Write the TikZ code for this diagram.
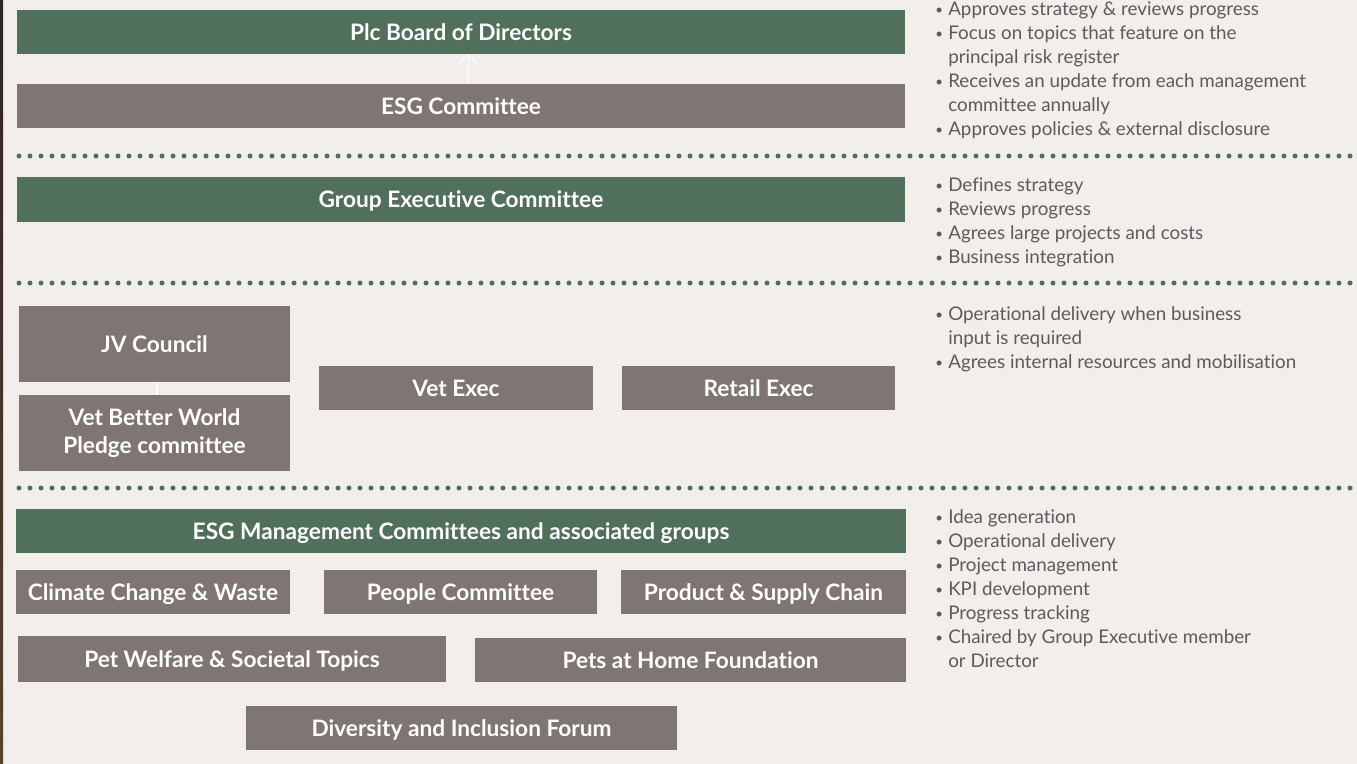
\documentclass[tikz,border=0pt]{standalone}
\usepackage{fontspec}
\usetikzlibrary{arrows.meta}
\setmainfont{Lato}[Ligatures=NoCommon]
\definecolor{bg}{HTML}{F2EEEC}
\definecolor{grn}{HTML}{50705C}
\definecolor{gry}{HTML}{7F7673}
\definecolor{txt}{HTML}{5E5A59}
\definecolor{edge}{HTML}{2E2426}
\begin{document}
\begin{tikzpicture}[x=0.75pt,y=-0.75pt,
  boxbase/.style={inner sep=0pt, text=white, font=\fontsize{17}{21.5}\selectfont\bfseries, align=center},
  one/.style={text height=12.5pt, text depth=0.3pt},
  gbox/.style={boxbase, fill=grn},
  ybox/.style={boxbase, fill=gry},
  dots/.style={grn, line width=3.75pt, line cap=round, dash pattern=on 0pt off 8.25pt},
  bl/.style={anchor=base west, inner sep=0pt, text=txt, font=\fontsize{14.1}{16}\selectfont},
  bu/.style={anchor=base west, inner sep=0pt, text=txt, font=\fontsize{10}{12}\selectfont}
]
\fill[bg] (0,0) rectangle (1357,764);
\useasboundingbox (0,0) rectangle (1357,764);
\shade[top color=edge, bottom color=edge!70!brown] (0,0) rectangle (3,764);

% boxes
\node[gbox, one, minimum width=888*0.75pt, minimum height=44*0.75pt] (plc) at (461,32) {Plc Board of Directors};
\node[ybox, one, minimum width=888*0.75pt, minimum height=44*0.75pt] (esg) at (461,106) {ESG Committee};
\node[gbox, one, minimum width=888*0.75pt, minimum height=45*0.75pt] (gec) at (461,199.5) {Group Executive Committee};
\node[ybox, one, minimum width=271*0.75pt, minimum height=76*0.75pt] (jv) at (154.5,344) {JV Council};
\node[ybox, minimum width=271*0.75pt, minimum height=76*0.75pt] (vbw) at (154.5,433) {Vet Better World\\Pledge committee};
\node[ybox, one, minimum width=274*0.75pt, minimum height=44*0.75pt] (vet) at (456,388) {Vet Exec};
\node[ybox, one, minimum width=273*0.75pt, minimum height=44*0.75pt] (ret) at (758.5,388) {Retail Exec};
\node[gbox, one, minimum width=890*0.75pt, minimum height=44*0.75pt] (mgmt) at (461,531) {ESG Management Committees and associated groups};
\node[ybox, one, minimum width=274*0.75pt, minimum height=44*0.75pt] (cc) at (153,592) {Climate Change \& Waste};
\node[ybox, one, minimum width=273*0.75pt, minimum height=44*0.75pt] (pc) at (460.5,592) {People Committee};
\node[ybox, one, minimum width=285*0.75pt, minimum height=44*0.75pt] (psc) at (763.5,592) {Product \& Supply Chain};
\node[ybox, one, minimum width=428*0.75pt, minimum height=46*0.75pt] (pw) at (232,659) {Pet Welfare \& Societal Topics};
\node[ybox, one, minimum width=431*0.75pt, minimum height=44*0.75pt] (phf) at (690.5,660) {Pets at Home Foundation};
\node[ybox, one, minimum width=431*0.75pt, minimum height=44*0.75pt] (di) at (461.5,728) {Diversity and Inclusion Forum};

% connectors
\draw[white, line width=0.75pt, -{Straight Barb[length=6.5pt,width=13pt]}] (esg.north -| 468,0) -- (plc.south -| 468,0);
\draw[white, line width=1.2pt] (jv.south -| 157,0) -- (vbw.north -| 157,0);

% dotted separators
\draw[dots] (19,156) -- (1357,156);
\draw[dots] (19,283) -- (1357,283);
\draw[dots] (19,488) -- (1357,488);

% bullet text
\foreach \y/\t [count=\i] in {
  15/Approves strategy \& reviews progress,
  39/Focus on topics that feature on the,
  87/Receives an update from each management,
  135/Approves policies \& external disclosure,
  191/Defines strategy,
  215/Reviews progress,
  239/Agrees large projects and costs,
  263/Business integration,
  320/Operational delivery when business,
  368/Agrees internal resources and mobilisation,
  523/Idea generation,
  547/Operational delivery,
  571/Project management,
  595/KPI development,
  619/Progress tracking,
  643/Chaired by Group Executive member}
  {\node[bu] (b\i) at (935,\y-1) {•}; \node[bl] (t\i) at (948,\y) {\t};}
\foreach \y/\t [count=\i] in {
  63/principal risk register,
  111/committee annually,
  344/input is required,
  667/or Director}
  {\node[bl] (c\i) at (948,\y) {\t};}
\end{tikzpicture}
\end{document}
